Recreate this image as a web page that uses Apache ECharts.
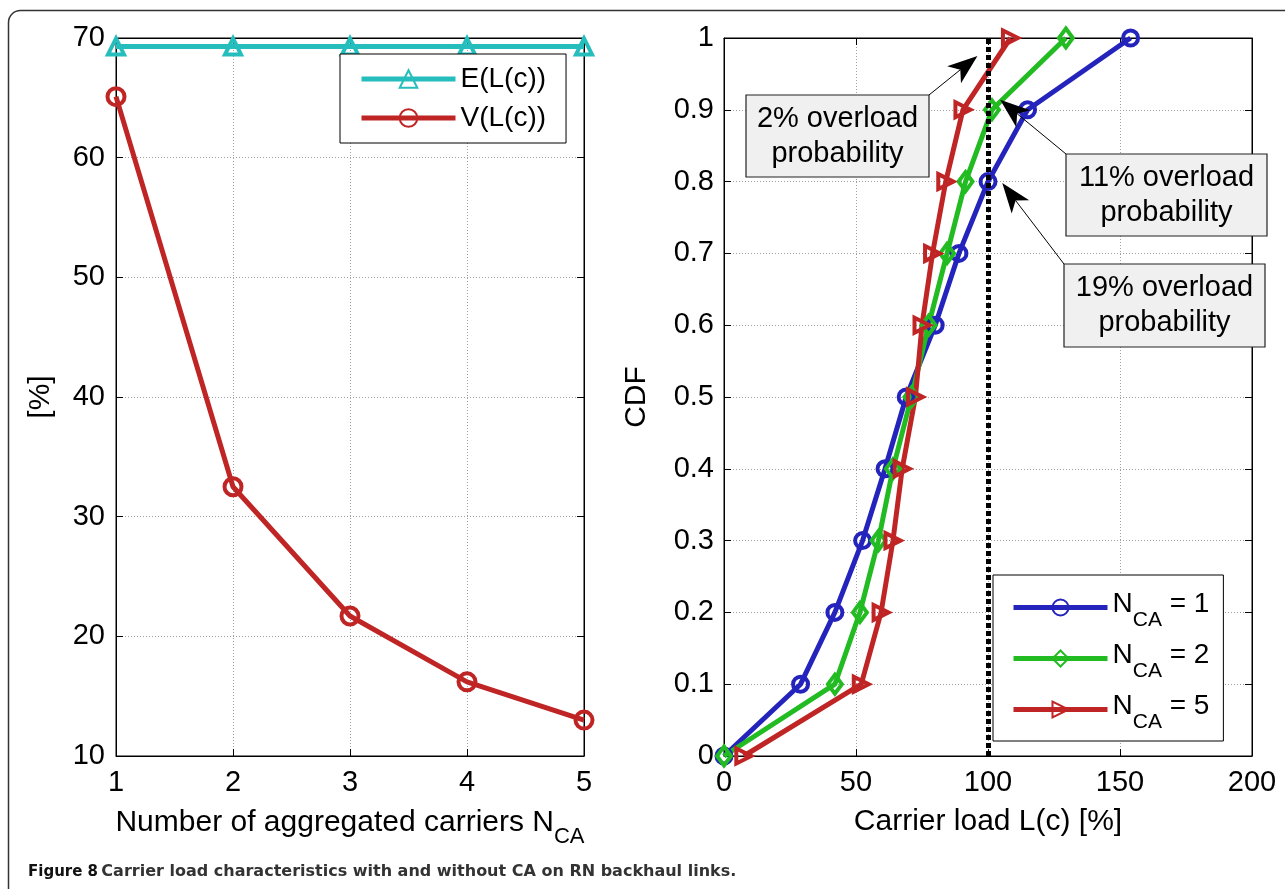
<!DOCTYPE html>
<html>
<head>
<meta charset="utf-8">
<script src="https://cdn.jsdelivr.net/npm/echarts@6/dist/echarts.min.js"></script>
<style>
  html, body { margin: 0; padding: 0; background: #fff; }
  #chart { width: 1285px; height: 889px; }
</style>
</head>
<body>
<div id="chart"></div>
<script>
// left panel: mean / variance of carrier load vs number of aggregated carriers
const carriers = [1, 2, 3, 4, 5];
const meanLoad = [69.3, 69.3, 69.3, 69.3, 69.3];
const varLoad = [65.1, 32.5, 21.7, 16.2, 13.0];

// right panel: CDF of carrier load
const cdfLevels = [0, 0.1, 0.2, 0.3, 0.4, 0.5, 0.6, 0.7, 0.8, 0.9, 1];
const loadN1 = [0, 29, 42, 52.5, 61, 69, 80, 89, 100, 115, 154];
const loadN2 = [0, 42, 51.5, 58.5, 64, 71, 77.5, 84.5, 91.5, 101.5, 129.5];
const loadN5 = [7.5, 52, 59.5, 64, 67.5, 72.5, 75, 79, 84, 90.5, 108.5];
const overloadLimit = 100;

const FONT = '"Liberation Sans", Arial, sans-serif';
const CYAN = '#26bdbd', RED = '#c02525', BLUE = '#2424bd', GREEN = '#22bb22';

const pairs = (xs, ys) => xs.map((x, i) => [x, ys[i]]);

function mainAxis(grid, min, max, interval, pos, margin) {
  return {
    type: 'value', gridIndex: grid, min: min, max: max, interval: interval, position: pos,
    axisLine: { show: true, onZero: false, lineStyle: { color: '#000', width: 1 } },
    axisTick: { show: true, inside: true, length: 7, lineStyle: { color: '#000' } },
    axisLabel: { color: '#000', fontSize: 29, fontFamily: FONT, margin: margin },
    splitLine: { show: true, lineStyle: { color: '#a0a0a0', width: 1, type: [1, 2] } }
  };
}
function mirrorAxis(grid, min, max, interval, pos) {
  return {
    type: 'value', gridIndex: grid, min: min, max: max, interval: interval, position: pos,
    axisLine: { show: true, onZero: false, lineStyle: { color: '#000', width: 1 } },
    axisTick: { show: true, inside: true, length: 7, lineStyle: { color: '#000' } },
    axisLabel: { show: false },
    splitLine: { show: false }
  };
}

const nameStyle = {
  color: '#000', fontSize: 30, fontFamily: FONT,
  rich: {
    t: { color: '#000', fontSize: 30, fontFamily: FONT, lineHeight: 34, verticalAlign: 'top' },
    s: { color: '#000', fontSize: 22, fontFamily: FONT, lineHeight: 22, padding: [24, 0, 0, 0] }
  }
};

const xLeft = mainAxis(0, 1, 5, 1, 'bottom', 12);
xLeft.name = '{t|Number of aggregated carriers N}{s|CA}';
xLeft.nameLocation = 'middle';
xLeft.nameGap = 49;
xLeft.nameTextStyle = nameStyle;

const yLeft = mainAxis(0, 10, 70, 10, 'left', 11);
yLeft.name = '[%]';
yLeft.nameLocation = 'middle';
yLeft.nameGap = 60;
yLeft.nameTextStyle = { color: '#000', fontSize: 30, fontFamily: FONT };

const xRight = mainAxis(1, 0, 200, 50, 'bottom', 12);
xRight.name = 'Carrier load L(c) [%]';
xRight.nameLocation = 'middle';
xRight.nameGap = 49;
xRight.nameTextStyle = { color: '#000', fontSize: 30, fontFamily: FONT, lineHeight: 34, verticalAlign: 'top' };

const yRight = mainAxis(1, 0, 1, 0.1, 'left', 10);
yRight.name = 'CDF';
yRight.nameLocation = 'middle';
yRight.nameGap = 72;
yRight.nameTextStyle = { color: '#000', fontSize: 30, fontFamily: FONT };

// markers are hollow like matlab's: no fill, thick outline, line shows through
function lineSeries(name, data, color, symbol, size, xi, yi, extra) {
  return Object.assign({
    name: name, type: 'line', data: data, xAxisIndex: xi, yAxisIndex: yi,
    symbol: symbol, symbolSize: size, showAllSymbol: true, clip: false,
    lineStyle: { color: color, width: 5 },
    itemStyle: { color: 'rgba(0,0,0,0)', borderColor: color, borderWidth: 4 },
    emphasis: { disabled: true }
  }, extra || {});
}

const subRich = {
  n: { color: '#000', fontSize: 28, fontFamily: FONT, lineHeight: 34, verticalAlign: 'top' },
  s: { color: '#000', fontSize: 21, fontFamily: FONT, lineHeight: 22, padding: [26, 0, 0, 0] }
};

const chart = echarts.init(document.getElementById('chart'));
chart.setOption({
  animation: false,
  backgroundColor: '#fff',
  grid: [
    { left: 116, top: 38, width: 468, height: 718, show: true, borderColor: '#000', borderWidth: 1, backgroundColor: '#fff' },
    { left: 724, top: 38, width: 528, height: 718, show: true, borderColor: '#000', borderWidth: 1, backgroundColor: '#fff' }
  ],
  xAxis: [xLeft, mirrorAxis(0, 1, 5, 1, 'top'), xRight, mirrorAxis(1, 0, 200, 50, 'top')],
  yAxis: [yLeft, mirrorAxis(0, 10, 70, 10, 'right'), yRight, mirrorAxis(1, 0, 1, 0.1, 'right')],
  legend: [
    {
      data: ['E(L(c))', 'V(L(c))'],
      orient: 'vertical', left: 340, top: 54,
      itemWidth: 94, itemHeight: 22, itemGap: 9,
      padding: [10, 20, 10, 19],
      backgroundColor: '#fff', borderColor: '#000', borderWidth: 1, borderRadius: 0,
      lineStyle: { width: 5 },
      textStyle: { color: '#000', fontSize: 28, fontFamily: FONT, lineHeight: 30 }
    },
    {
      data: ['N1', 'N2', 'N5'],
      orient: 'vertical', left: 993, top: 575,
      itemWidth: 94, itemHeight: 20, itemGap: 4,
      padding: [9, 14, 8, 18],
      backgroundColor: '#fff', borderColor: '#000', borderWidth: 1, borderRadius: 0,
      lineStyle: { width: 5 },
      formatter: function (name) {
        return '{n|N}{s|CA}{n| = ' + name.slice(1) + '}';
      },
      textStyle: { color: '#000', fontSize: 28, fontFamily: FONT, rich: subRich }
    }
  ],
  series: [
    lineSeries('E(L(c))', pairs(carriers, meanLoad), CYAN, 'triangle', 16, 0, 0),
    lineSeries('V(L(c))', pairs(carriers, varLoad), RED, 'circle', 17, 0, 0),
    lineSeries('N1', pairs(loadN1, cdfLevels), BLUE, 'circle', 15, 2, 2, {
      markLine: {
        silent: true, symbol: ['none', 'none'], label: { show: false },
        lineStyle: { color: '#000', width: 5, type: [5, 3] },
        data: [{ xAxis: overloadLimit }]
      }
    }),
    lineSeries('N2', pairs(loadN2, cdfLevels), GREEN, 'diamond', [14, 19], 2, 2),
    lineSeries('N5', pairs(loadN5, cdfLevels), RED, 'triangle', 15, 2, 2, { symbolRotate: -90 })
  ]
});

// annotation boxes (pixel layout) with arrows pointing at data coordinates
const notes = [
  { text: '2% overload\nprobability', box: [746, 95, 183, 82], tail: [929, 95], tip: [96, 0.975] },
  { text: '11% overload\nprobability', box: [1066, 154, 201, 82], tail: [1066, 154], tip: [104.6, 0.914] },
  { text: '19% overload\nprobability', box: [1064, 264, 201, 83], tail: [1064, 264], tip: [105.4, 0.798] }
];

function arrow(tail, tip) {
  const dx = tip[0] - tail[0], dy = tip[1] - tail[1];
  const len = Math.hypot(dx, dy);
  const ux = dx / len, uy = dy / len, px = -uy, py = ux;
  const L = 30, W = 11, notch = 8;
  const bx = tip[0] - ux * L, by = tip[1] - uy * L;
  const nx = tip[0] - ux * (L - notch), ny = tip[1] - uy * (L - notch);
  return [
    { type: 'line', silent: true, z: 100, shape: { x1: tail[0], y1: tail[1], x2: nx, y2: ny }, style: { stroke: '#000', lineWidth: 1 } },
    { type: 'polygon', silent: true, z: 100, shape: { points: [tip, [bx + px * W, by + py * W], [nx, ny], [bx - px * W, by - py * W]] }, style: { fill: '#000' } }
  ];
}

const CAPTION_FONT = '"DejaVu Sans", sans-serif';
const graphics = [
  { type: 'rect', silent: true, z: 0, shape: { x: 8.5, y: 10.5, width: 1300, height: 900, r: 12 }, style: { fill: 'none', stroke: '#333', lineWidth: 1.5 } },
  {
    type: 'text', silent: true, x: 28, y: 872,
    style: {
      text: '{b|Figure 8} {r|Carrier load characteristics with and without CA on RN backhaul links.}',
      verticalAlign: 'middle',
      rich: {
        b: { fontFamily: CAPTION_FONT, fontSize: 15, fontWeight: 'bold', fill: '#111' },
        r: { fontFamily: CAPTION_FONT, fontSize: 16, fontWeight: 'bold', fill: '#333' }
      }
    }
  }
];
notes.forEach(function (n) {
  const tipPx = chart.convertToPixel({ gridIndex: 1 }, n.tip);
  graphics.push({
    type: 'rect', silent: true, z: 90,
    shape: { x: n.box[0], y: n.box[1], width: n.box[2], height: n.box[3] },
    style: { fill: '#f0f0f0', stroke: '#222', lineWidth: 1.2 }
  });
  graphics.push({
    type: 'text', silent: true, z: 91,
    x: n.box[0] + n.box[2] / 2, y: n.box[1] + n.box[3] / 2,
    style: { text: n.text, fill: '#000', fontSize: 29, fontFamily: FONT, lineHeight: 35, align: 'center', verticalAlign: 'middle' }
  });
  arrow(n.tail, tipPx).forEach(function (g) { graphics.push(g); });
});
chart.setOption({ graphic: graphics });
</script>
</body>
</html>
